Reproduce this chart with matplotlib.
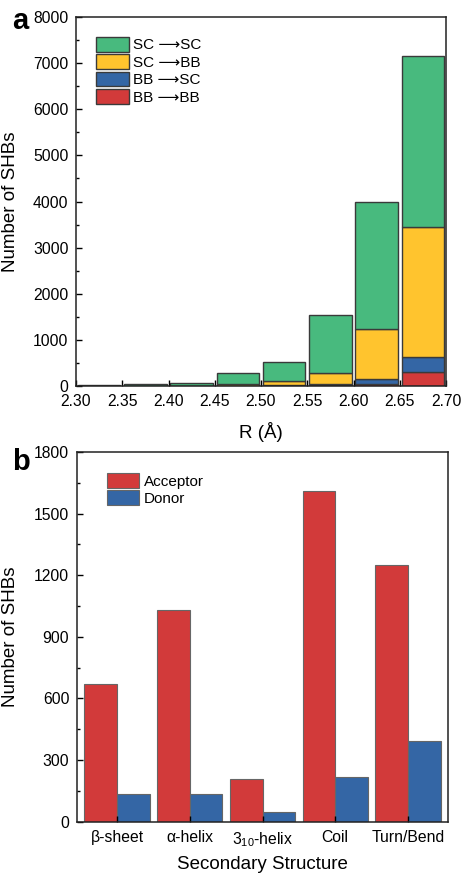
import matplotlib
matplotlib.use("Agg")
import matplotlib.pyplot as plt
import numpy as np

plt.rcParams["font.family"] = ["Liberation Sans", "DejaVu Sans"]
plt.rcParams["mathtext.fontset"] = "custom"
plt.rcParams["mathtext.rm"] = "Liberation Sans"
plt.rcParams["mathtext.it"] = "Liberation Sans:italic"

# panel a: SHB counts per distance bin, stacked by donor/acceptor type
bin_edges = [2.30, 2.35, 2.40, 2.45, 2.50, 2.55, 2.60, 2.65, 2.70]
bb_bb = [5, 0, 0, 5, 5, 15, 50, 300]
bb_sc = [0, 0, 0, 5, 10, 35, 100, 320]
sc_bb = [5, 5, 10, 40, 95, 240, 1080, 2830]
sc_sc = [10, 30, 60, 230, 410, 1250, 2770, 3700]

# panel b: counts per secondary structure
structures = ["\u03b2-sheet", "\u03b1-helix", r"3$_{10}$-helix", "Coil", "Turn/Bend"]
acceptor = [670, 1030, 207, 1612, 1250]
donor = [133, 137, 48, 217, 392]

green = "#48BA7E"
yellow = "#FFC42E"
blue = "#3466A5"
red = "#D23A3A"
edge = "#3a3a3a"

fig = plt.figure(figsize=(4.63, 8.74), dpi=100)
ax1 = fig.add_axes([76/463, 1-386/874, 370/463, 369/874])
ax2 = fig.add_axes([77/463, 1-821.7/874, 371/463, 369.7/874])

centers = (np.array(bin_edges[:-1]) + np.array(bin_edges[1:])) / 2
w = 0.046
base = np.zeros(len(centers))
handles = []
for vals, col in [(bb_bb, red), (bb_sc, blue), (sc_bb, yellow), (sc_sc, green)]:
    h = ax1.bar(centers, vals, w, bottom=base, color=col, edgecolor=edge, linewidth=1.0)
    handles.append(h)
    base = base + np.array(vals)

labels = ["SC \u27f6SC", "SC \u27f6BB", "BB \u27f6SC", "BB \u27f6BB"]
ax1.legend(handles[::-1], labels, loc="upper left", bbox_to_anchor=(0.054, 0.946),
           frameon=False, borderpad=0, borderaxespad=0, fontsize=11,
           handlelength=2.15, handleheight=1.1, labelspacing=0.12, handletextpad=0.3)
ax1.set_xlim(2.30, 2.70)
ax1.set_ylim(0, 8000)
ax1.set_xticks(bin_edges)
ax1.set_xticklabels(["%.2f" % e for e in bin_edges])
ax1.set_yticks(np.arange(0, 8001, 1000))
ax1.set_yticks(np.arange(500, 8000, 1000), minor=True)
ax1.set_xlabel("R (\u00c5)", fontsize=13.5, labelpad=9)
ax1.set_ylabel("Number of SHBs", fontsize=13.5)
ax1.yaxis.set_label_coords(-0.155, 0.5)

x = np.arange(1, len(structures) + 1)
bw = 0.45
ba = ax2.bar(x - bw/2, acceptor, bw, color=red, edgecolor="#666666", linewidth=0.8)
bd = ax2.bar(x + bw/2, donor, bw, color=blue, edgecolor="#666666", linewidth=0.8)
ax2.legend([ba, bd], ["Acceptor", "Donor"], loc="upper left", bbox_to_anchor=(0.081, 0.943),
           frameon=False, borderpad=0, borderaxespad=0, fontsize=11,
           handlelength=2.1, handleheight=1.1, labelspacing=0.12, handletextpad=0.3)
ax2.set_xlim(0.45, 5.55)
ax2.set_ylim(0, 1800)
ax2.set_xticks(x)
ax2.set_xticklabels(structures)
ax2.set_yticks(np.arange(0, 1801, 300))
ax2.set_yticks(np.arange(150, 1800, 300), minor=True)
ax2.set_xlabel("Secondary Structure", fontsize=13.5, labelpad=5)
ax2.set_ylabel("Number of SHBs", fontsize=13.5)
ax2.yaxis.set_label_coords(-0.155, 0.5)

for ax in (ax1, ax2):
    for s in ax.spines.values():
        s.set_linewidth(1.1)
        s.set_color("#222222")
    ax.tick_params(direction="in", which="major", length=4, width=1.0, labelsize=11.3)
    ax.tick_params(direction="in", which="minor", length=2.5, width=1.0)
    ax.tick_params(axis="y", which="major", pad=5.5)
    ax.tick_params(axis="x", which="major", pad=6)
    ax.tick_params(axis="x", which="minor", bottom=False)

fig.text(12/463, 1-29/874, "a", fontsize=21, fontweight="bold", ha="left", va="baseline")
fig.text(12/463, 1-470/874, "b", fontsize=21, fontweight="bold", ha="left", va="baseline")

fig.savefig("out.png", dpi=100)
